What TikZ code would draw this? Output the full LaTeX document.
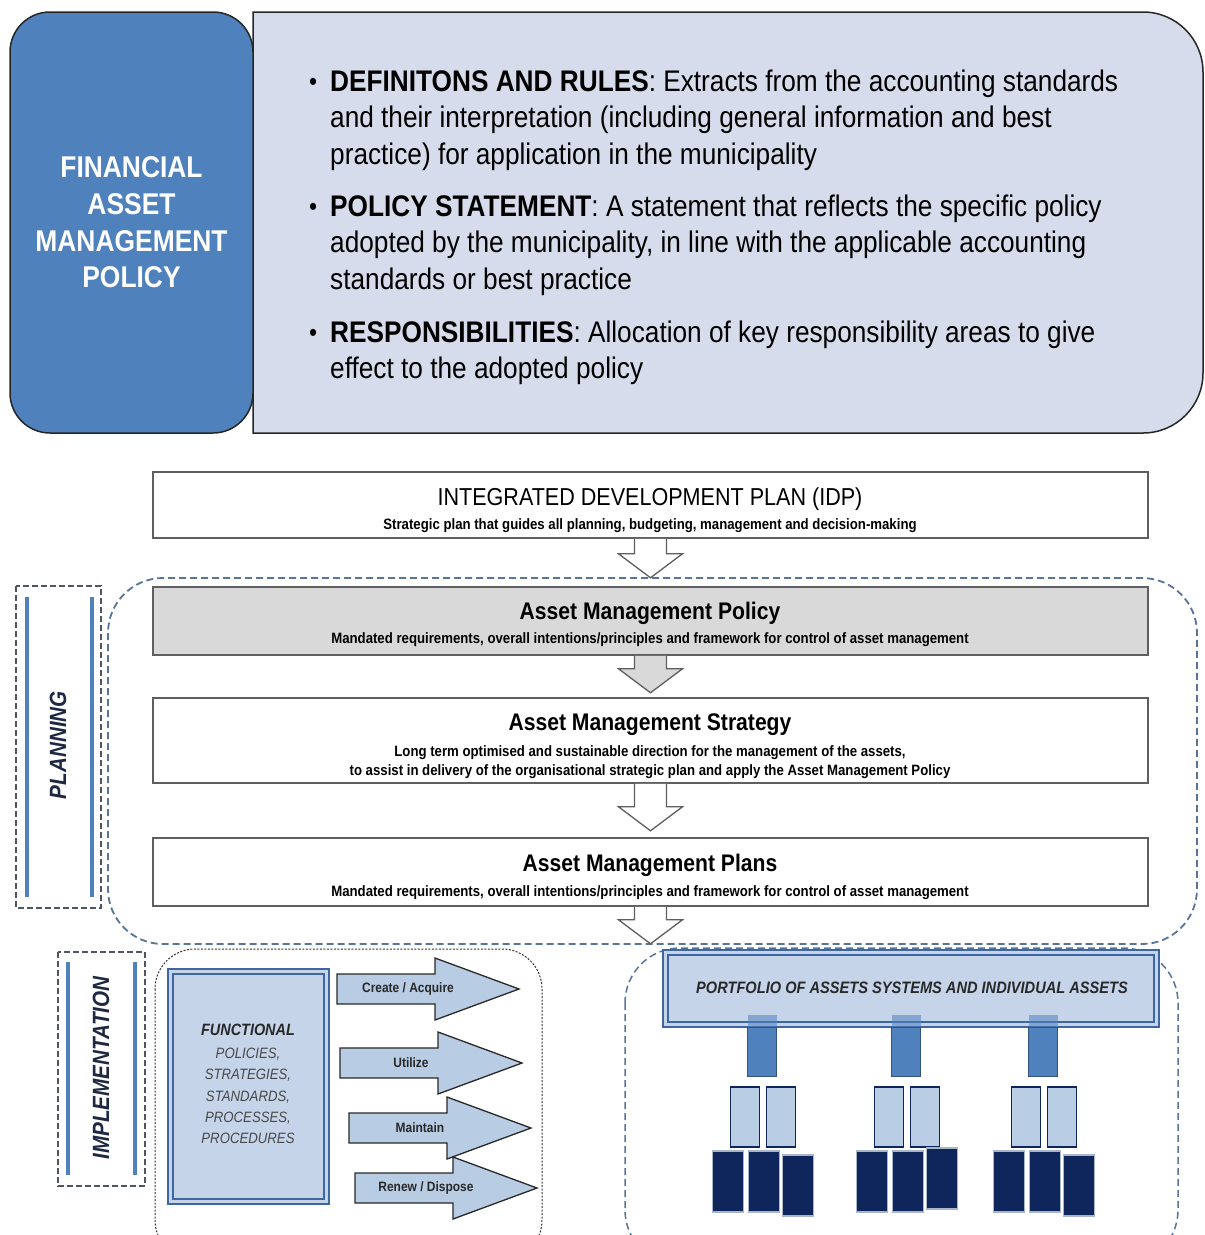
\documentclass[tikz,border=0pt]{standalone}
\usepackage{fontspec}
\setmainfont[FakeStretch=0.88]{Liberation Sans}
\usetikzlibrary{calc}

\definecolor{polblue}{RGB}{79,129,189}
\definecolor{lavender}{RGB}{214,220,235}
\definecolor{regionblue}{RGB}{88,116,152}
\definecolor{labelgray}{RGB}{80,86,96}
\definecolor{boxgray}{RGB}{217,217,217}
\definecolor{edgegray}{RGB}{95,95,95}
\definecolor{paleblue}{RGB}{197,212,233}
\definecolor{arrowblue}{RGB}{184,204,228}
\definecolor{frameblue}{RGB}{62,102,160}
\definecolor{midblue}{RGB}{185,205,229}
\definecolor{navy}{RGB}{14,38,92}
\definecolor{inkgray}{RGB}{40,40,40}
\definecolor{labelnavy}{RGB}{30,40,66}

\tikzset{
  planbox/.style={draw=edgegray, line width=1.5, fill=white, minimum width=995},
  ttl/.style={font=\bfseries\fontsize{24}{28}\selectfont},
  sub/.style={font=\bfseries\fontsize{15}{19}\selectfont, align=center},
  bullettext/.style={anchor=north west, align=left, font=\fontsize{29.8}{36.5}\selectfont},
  region/.style={draw=regionblue, line width=1.8, dash pattern=on 7 off 4, rounded corners=55},
  labelbox/.style={draw=labelgray, line width=2, dash pattern=on 6 off 3},
  sideline/.style={draw=polblue, line width=4},
  sidelabel/.style={rotate=90, text=labelnavy, font=\bfseries\itshape\fontsize{23.5}{28}\selectfont},
  flowarr/.style={draw=edgegray, line width=1.3, line join=miter},
  lifearr/.style={draw=inkgray, line width=1.3, fill=arrowblue, line join=miter},
  lifelabel/.style={font=\bfseries\fontsize{13.6}{16}\selectfont, text=inkgray},
  dblbox/.style={draw=frameblue, line width=2, double=paleblue, double distance=3, fill=paleblue},
  stem/.style={draw=frameblue!80!black, line width=1.2, fill=polblue, minimum width=29, minimum height=49},
  midbox/.style={draw=navy, line width=1.4, fill=midblue, minimum width=29, minimum height=60},
  darkbox/.style={draw=midblue!70!gray, line width=1.4, fill=navy, minimum width=31, minimum height=61},
}

% small bullet in front of a header item
\newcommand{\hbul}{\llap{\raisebox{0.5pt}{\fontsize{26}{26}\selectfont •}\hspace{13pt}}}
% hollow block arrow below a box: node, fill, shaft length
\newcommand{\flowarrow}[3]{%
  \draw[flowarr, fill=#2] ($(#1.south)+(-16,0)$) -- ++(0,#3) -- ++(-16,0) -- ++(32,24)
    -- ++(32,-24) -- ++(-16,0) -- ++(0,-#3);
}
% life cycle arrow: name, x, y, label
\newcommand{\lifearrow}[4]{%
  \draw[lifearr] (#2,#3-15) -- ++(98,0) -- ++(0,-16) -- ++(84,31) -- ++(-84,31)
    -- ++(0,-16) -- ++(-98,0) -- cycle;
  \node[lifelabel] (#1) at (#2+71,#3) {#4};
}

\begin{document}
\begin{tikzpicture}[x=1pt, y=-1pt, every node/.style={inner sep=0pt}]
\useasboundingbox (0,0) rectangle (1205,1235);

% Policy header
\draw[fill=lavender, line width=1.5, draw=black!85] (253,12) -- (1000,12) [rounded corners=60]
  -- (1203,12) -- (1203,433) -- (1000,433) [sharp corners] -- (253,433) -- cycle;
\node[draw=black!85, line width=1.5, fill=polblue, rounded corners=40,
  minimum width=243, minimum height=421] (fam) at (131.5,222.5) {};
\node[font=\bfseries\fontsize{30}{36.7}\selectfont, text=white, align=center] (famT)
  at (fam.center) {FINANCIAL\\ASSET\\MANAGEMENT\\POLICY};

\node[bullettext] (defs) at (330,69.5) {\hbul\textbf{DEFINITONS AND RULES}: Extracts from the accounting standards\\
  and their interpretation (including general information and best\\
  practice) for application in the municipality};
\node[bullettext] (stmt) at (330,194.5) {\hbul\textbf{POLICY STATEMENT}: A statement that reflects the specific policy\\
  adopted by the municipality, in line with the applicable accounting\\
  standards or best practice};
\node[bullettext] (resp) at (330,320.5) {\hbul\textbf{RESPONSIBILITIES}: Allocation of key responsibility areas to give\\
  effect to the adopted policy};

% Planning
\draw[region] (108,578) rectangle (1197,944);
\draw[labelbox] (16,586) rectangle (101,908);
\draw[sideline] (27,597) -- (27,897);
\draw[sideline] (92,597) -- (92,897);
\node[sidelabel] (planT) at (58,745) {PLANNING};

\node[planbox, minimum height=66] (idp) at (650.5,505) {};
\node[font=\fontsize{24.5}{28}\selectfont] (idpT) at (650,499) {INTEGRATED DEVELOPMENT PLAN (IDP)};
\node[sub] (idpS) at (650,526) {Strategic plan that guides all planning, budgeting, management and decision-making};

\node[planbox, fill=boxgray, minimum height=68] (pol) at (650.5,621) {};
\node[ttl] (polT) at (650,613) {Asset Management Policy};
\node[sub] (polS) at (650,640) {Mandated requirements, overall intentions/principles and framework for control of asset management};

\node[planbox, minimum height=85] (strat) at (650.5,740.5) {};
\node[ttl] (stratT) at (650,725) {Asset Management Strategy};
\node[sub] (stratS) at (650,762) {Long term optimised and sustainable direction for the management of the assets,\\
  to assist in delivery of the organisational strategic plan and apply the Asset Management Policy};

\node[planbox, minimum height=68] (plans) at (650.5,872) {};
\node[ttl] (plansT) at (650,865) {Asset Management Plans};
\node[sub] (plansS) at (650,893) {Mandated requirements, overall intentions/principles and framework for control of asset management};

\flowarrow{idp}{white}{15}
\flowarrow{pol}{boxgray}{13}
\flowarrow{strat}{white}{23}
\flowarrow{plans}{white}{13}

% Implementation
\draw[labelbox] (58,952) rectangle (145,1186);
\draw[sideline] (68,962) -- (68,1175);
\draw[sideline] (135,962) -- (135,1175);
\node[sidelabel] (implT) at (101,1068) {IMPLEMENTATION};

\draw[draw=black!80, line width=1, dash pattern=on 2 off 1.5, rounded corners=40] (155,949) rectangle (542,1260);
\node[dblbox, minimum width=156, minimum height=230] (func) at (248.5,1086.5) {};
\node[font=\bfseries\itshape\fontsize{16.4}{19}\selectfont, text=inkgray] (funcT) at (248,1030) {FUNCTIONAL};
\node[font=\itshape\fontsize{15}{21.3}\selectfont, text=inkgray!85, align=center] (funcL)
  at (248,1096) {POLICIES,\\STRATEGIES,\\STANDARDS,\\PROCESSES,\\PROCEDURES};

\lifearrow{create}{337}{989}{Create / Acquire}
\lifearrow{utilize}{340}{1063}{Utilize}
\lifearrow{maintain}{349}{1128}{Maintain}
\lifearrow{renew}{355}{1188}{Renew / Dispose}

% Portfolio
\draw[region, line width=1.5] (625,948) rectangle (1178,1265);
\node[dblbox, minimum width=491, minimum height=72] (port) at (911,988.5) {};
\node[font=\bfseries\itshape\fontsize{16.6}{19}\selectfont, text=inkgray] (portT) at (912,988) {PORTFOLIO OF ASSETS SYSTEMS AND INDIVIDUAL ASSETS};

\foreach \gx/\dy [count=\gi] in {762/4, 906/-3, 1043/4} {
  \fill[polblue, opacity=0.55] (\gx-14.5,1015) rectangle (\gx+14.5,1028);
  \node[stem, anchor=north] (stem\gi) at (\gx,1027) {};
  \node[midbox] (sysA\gi) at (\gx-17,1117) {};
  \node[midbox] (sysB\gi) at (\gx+19,1117) {};
  \node[darkbox] (astA\gi) at (\gx-34,1181.5) {};
  \node[darkbox] (astB\gi) at (\gx+2,1181.5) {};
  \node[darkbox] (astC\gi) at (\gx+36,1181.5+\dy) {};
}
\end{tikzpicture}
\end{document}
